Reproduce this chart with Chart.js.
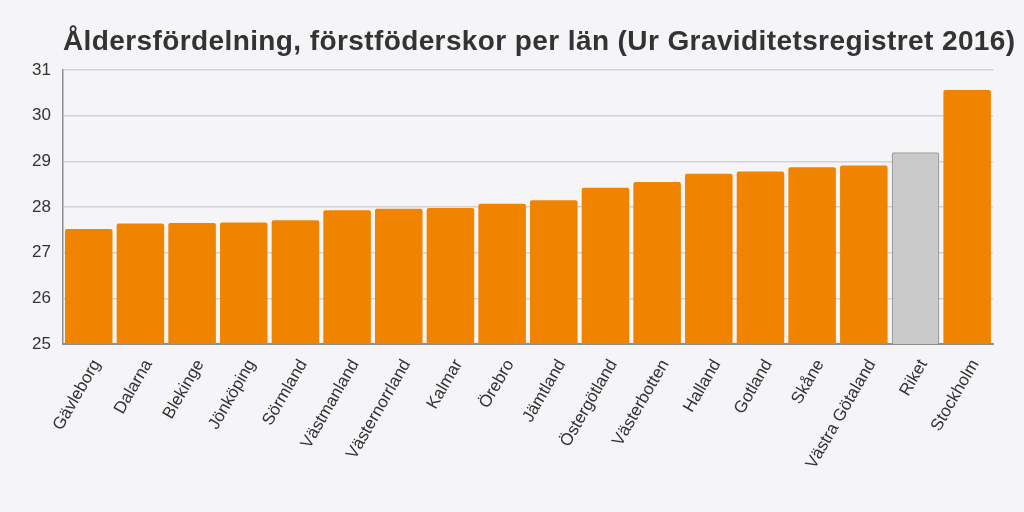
<!DOCTYPE html>
<html>
<head>
<meta charset="utf-8">
<script src="https://cdn.jsdelivr.net/npm/chart.js"></script>
<style>
  html, body { margin: 0; padding: 0; background: #f5f4f7; }
  #wrap { width: 1024px; height: 512px; position: relative; }
</style>
</head>
<body>
<div id="wrap"><canvas id="chart"></canvas></div>
<script>
// data
const lan = ['Gävleborg', 'Dalarna', 'Blekinge', 'Jönköping', 'Sörmland', 'Västmanland',
  'Västernorrland', 'Kalmar', 'Örebro', 'Jämtland', 'Östergötland', 'Västerbotten',
  'Halland', 'Gotland', 'Skåne', 'Västra Götaland', 'Riket', 'Stockholm'];
const medelalder = [27.52, 27.64, 27.65, 27.66, 27.71, 27.93, 27.96, 27.98, 28.07,
  28.15, 28.42, 28.55, 28.73, 28.78, 28.87, 28.91, 29.20, 30.56];
const yTicks = [25, 26, 27, 28, 29, 30, 31];
const title = 'Åldersfördelning, förstföderskor per län (Ur Graviditetsregistret 2016)';

const orange = '#f08300';
const grey = '#c9c9c9';
const fills = lan.map(n => n === 'Riket' ? grey : orange);
const borders = lan.map(n => n === 'Riket' ? '#9c9c9c' : orange);
const borderW = lan.map(n => n === 'Riket' ? 1.5 : 0);

Chart.defaults.font.family = '"Liberation Sans", Arial, sans-serif';
Chart.defaults.color = '#333';

// title drawn at the plot's left edge, allowed to run to the page edge
const titlePlugin = {
  id: 'bigTitle',
  afterDraw(chart) {
    const ctx = chart.ctx;
    ctx.save();
    ctx.font = 'bold 28px "Liberation Sans", Arial, sans-serif';
    ctx.letterSpacing = '0.4px';
    ctx.fillStyle = '#333';
    ctx.textBaseline = 'alphabetic';
    ctx.fillText(title, chart.chartArea.left, 50);
    ctx.restore();
  }
};

new Chart(document.getElementById('chart'), {
  type: 'bar',
  data: {
    labels: lan,
    datasets: [{
      label: 'Ålder',
      data: medelalder,
      backgroundColor: fills,
      borderColor: borders,
      borderWidth: borderW,
      borderSkipped: 'bottom',
      borderRadius: 2,
      barPercentage: 0.92,
      categoryPercentage: 1
    }]
  },
  plugins: [titlePlugin],
  options: {
    responsive: true,
    maintainAspectRatio: false,
    animation: false,
    layout: { padding: { left: 20, right: 31, top: 70, bottom: 0 } },
    plugins: {
      legend: { display: false },
      tooltip: { enabled: false }
    },
    scales: {
      x: {
        grid: { display: false, drawTicks: false },
        border: { color: '#8e8e8e', width: 2 },
        ticks: {
          color: '#333',
          font: { size: 17 },
          minRotation: 60,
          maxRotation: 60,
          autoSkip: false,
          padding: 12,
          labelOffset: 8
        },
        afterFit: s => { s.height = 168; }
      },
      y: {
        min: yTicks[0],
        max: yTicks[yTicks.length - 1],
        afterBuildTicks: s => { s.ticks = yTicks.map(v => ({ value: v })); },
        grid: { color: '#d2d2d6', lineWidth: 1.5, drawTicks: false },
        border: { color: '#8e8e8e', width: 1.5 },
        ticks: { color: '#333', font: { size: 17 }, padding: 12 }
      }
    }
  }
});
</script>
</body>
</html>
